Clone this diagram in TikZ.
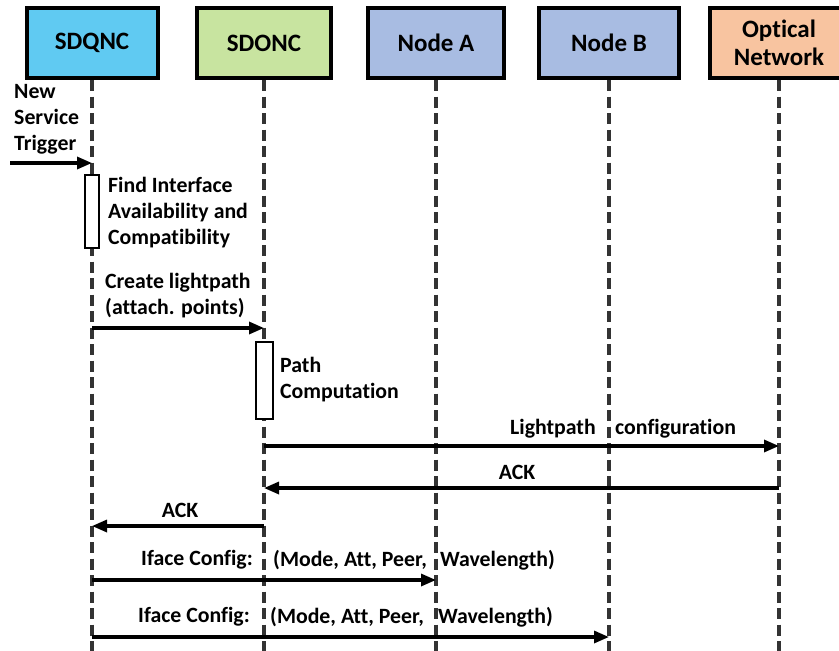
\documentclass[tikz,border=0pt]{standalone}
\usepackage{fontspec}
\setmainfont[Ligatures=NoCommon]{Carlito}
\usetikzlibrary{arrows.meta}
\definecolor{cq}{RGB}{96,202,242}
\definecolor{co}{RGB}{200,228,160}
\definecolor{cn}{RGB}{168,188,226}
\definecolor{cp}{RGB}{248,196,160}
\begin{document}
\begin{tikzpicture}[x=1pt,y=-1pt,
  hdr/.style={draw=black,line width=4pt,minimum height=70pt,font=\bfseries\fontsize{25}{28}\selectfont,align=center,inner sep=0pt},
  life/.style={draw=black!80,line width=3.6pt,dash pattern=on 11pt off 5.5pt},
  msg/.style={draw=black,line width=3.2pt,-{Triangle[length=15pt,width=12pt]}},
  lbl/.style={font=\bfseries\fontsize{21.8}{26}\selectfont,inner sep=0pt,align=left,text=black},
  act/.style={draw=black,line width=2.4pt,fill=white,inner sep=0pt}
]
\useasboundingbox (0,0) rectangle (839,651);
\clip (0,0) rectangle (839,651);
% headers
\node[hdr,fill=cq,minimum width=131pt] (q) at (92,43) {SDQNC};
\node[hdr,fill=co,minimum width=134pt] (o) at (264,43) {SDONC};
\node[hdr,fill=cn,minimum width=136pt] (a) at (436,43) {Node A};
\node[hdr,fill=cn,minimum width=140pt] (b) at (609,43) {Node B};
\node[hdr,fill=cp,minimum width=138pt] (n) at (779,43) {Optical\\Network};
% lifelines
\coordinate (qe) at (92,651);
\coordinate (oe) at (264,651);
\coordinate (ae) at (436,651);
\coordinate (be) at (609,651);
\coordinate (ne) at (779,651);
\draw[life] (q.south) -- (qe);
\draw[life] (o.south) -- (oe);
\draw[life] (a.south) -- (ae);
\draw[life] (b.south) -- (be);
\draw[life] (n.south) -- (ne);
% trigger
\node[lbl,anchor=west] (trig) at (14,119) {New\\Service\\Trigger};
\coordinate (t0) at (10,163);
\coordinate (t1) at (92,163);
\draw[msg] (t0) -- (t1);
% activation 1
\node[act,minimum width=14pt,minimum height=73pt] (act1) at (92,211.5) {};
\node[lbl,anchor=west] (find) at (108,212.5) {Find Interface\\Availability and\\Compatibility};
% create lightpath
\node[lbl,anchor=west] (cl) at (105,296) {Create lightpath\\(attach. points)};
\coordinate (c0) at (92,328);
\coordinate (c1) at (264,328);
\draw[msg] (c0) -- (c1);
% activation 2
\node[act,minimum width=17pt,minimum height=77pt] (act2) at (264.5,380.5) {};
\node[lbl,anchor=west] (pc) at (280,380) {Path\\Computation};
% lightpath configuration
\coordinate (l0) at (264,446);
\coordinate (l1) at (779,446);
\draw[msg] (l0) -- (l1);
\node[lbl,anchor=west] (lp1) at (510,429) {Lightpath};
\node[lbl,anchor=west] (lp2) at (615,429) {configuration};
% ACK 1
\coordinate (k0) at (779,488);
\coordinate (k1) at (264,488);
\draw[msg] (k0) -- (k1);
\node[lbl] (ack1) at (517,472) {ACK};
% ACK 2
\coordinate (j0) at (264,526);
\coordinate (j1) at (92,526);
\draw[msg] (j0) -- (j1);
\node[lbl] (ack2) at (180,510) {ACK};
% iface 1
\node[lbl,anchor=east] (if1) at (253,560) {Iface Config:};
\node[lbl,anchor=west] (if1b) at (273,560) {(Mode, Att, Peer,};
\node[lbl,anchor=west] (if1c) at (440,560) {Wavelength)};
\coordinate (f0) at (92,580);
\coordinate (f1) at (436,580);
\draw[msg] (f0) -- (f1);
% iface 2
\node[lbl,anchor=east] (if2) at (250,617) {Iface Config:};
\node[lbl,anchor=west] (if2b) at (270,617) {(Mode, Att, Peer,};
\node[lbl,anchor=west] (if2c) at (438,617) {Wavelength)};
\coordinate (g0) at (92,637);
\coordinate (g1) at (609,637);
\draw[msg] (g0) -- (g1);
\end{tikzpicture}
\end{document}
